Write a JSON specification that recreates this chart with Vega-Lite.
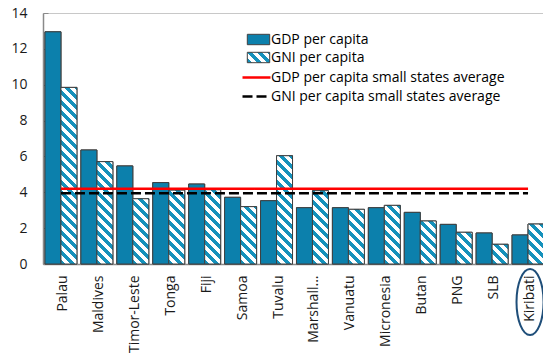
{
  "$schema": "https://vega.github.io/schema/vega-lite/v6.json",
  "width": 500,
  "height": 251,
  "autosize": {"type": "none"},
  "padding": {"left": 43, "top": 13, "right": 0, "bottom": 92},
  "background": "white",
  "config": {
    "font": "Open Sans",
    "view": {"stroke": "#c8c8c8", "strokeWidth": 1},
    "axis": {"labelFont": "Open Sans", "labelFontSize": 14, "labelColor": "#1a1a1a", "grid": false, "domainColor": "#8a8a8a", "domainWidth": 1.5, "tickColor": "#8a8a8a", "title": null, "labelOverlap": false},
    "legend": {"labelFont": "Open Sans", "labelFontSize": 14, "labelColor": "#000000", "labelLimit": 400}
  },
  "params": [
    {"name": "hs", "expr": "[{offset:0,color:'#1591bb'},{offset:0.02273,color:'#1591bb'},{offset:0.02273,color:'#fff'},{offset:0.04545,color:'#fff'},{offset:0.04545,color:'#1591bb'},{offset:0.06818,color:'#1591bb'},{offset:0.06818,color:'#fff'},{offset:0.09091,color:'#fff'},{offset:0.09091,color:'#1591bb'},{offset:0.11364,color:'#1591bb'},{offset:0.11364,color:'#fff'},{offset:0.13636,color:'#fff'},{offset:0.13636,color:'#1591bb'},{offset:0.15909,color:'#1591bb'},{offset:0.15909,color:'#fff'},{offset:0.18182,color:'#fff'},{offset:0.18182,color:'#1591bb'},{offset:0.20455,color:'#1591bb'},{offset:0.20455,color:'#fff'},{offset:0.22727,color:'#fff'},{offset:0.22727,color:'#1591bb'},{offset:0.25,color:'#1591bb'},{offset:0.25,color:'#fff'},{offset:0.27273,color:'#fff'},{offset:0.27273,color:'#1591bb'},{offset:0.29545,color:'#1591bb'},{offset:0.29545,color:'#fff'},{offset:0.31818,color:'#fff'},{offset:0.31818,color:'#1591bb'},{offset:0.34091,color:'#1591bb'},{offset:0.34091,color:'#fff'},{offset:0.36364,color:'#fff'},{offset:0.36364,color:'#1591bb'},{offset:0.38636,color:'#1591bb'},{offset:0.38636,color:'#fff'},{offset:0.40909,color:'#fff'},{offset:0.40909,color:'#1591bb'},{offset:0.43182,color:'#1591bb'},{offset:0.43182,color:'#fff'},{offset:0.45455,color:'#fff'},{offset:0.45455,color:'#1591bb'},{offset:0.47727,color:'#1591bb'},{offset:0.47727,color:'#fff'},{offset:0.5,color:'#fff'},{offset:0.5,color:'#1591bb'},{offset:0.52273,color:'#1591bb'},{offset:0.52273,color:'#fff'},{offset:0.54545,color:'#fff'},{offset:0.54545,color:'#1591bb'},{offset:0.56818,color:'#1591bb'},{offset:0.56818,color:'#fff'},{offset:0.59091,color:'#fff'},{offset:0.59091,color:'#1591bb'},{offset:0.61364,color:'#1591bb'},{offset:0.61364,color:'#fff'},{offset:0.63636,color:'#fff'},{offset:0.63636,color:'#1591bb'},{offset:0.65909,color:'#1591bb'},{offset:0.65909,color:'#fff'},{offset:0.68182,color:'#fff'},{offset:0.68182,color:'#1591bb'},{offset:0.70455,color:'#1591bb'},{offset:0.70455,color:'#fff'},{offset:0.72727,color:'#fff'},{offset:0.72727,color:'#1591bb'},{offset:0.75,color:'#1591bb'},{offset:0.75,color:'#fff'},{offset:0.77273,color:'#fff'},{offset:0.77273,color:'#1591bb'},{offset:0.79545,color:'#1591bb'},{offset:0.79545,color:'#fff'},{offset:0.81818,color:'#fff'},{offset:0.81818,color:'#1591bb'},{offset:0.84091,color:'#1591bb'},{offset:0.84091,color:'#fff'},{offset:0.86364,color:'#fff'},{offset:0.86364,color:'#1591bb'},{offset:0.88636,color:'#1591bb'},{offset:0.88636,color:'#fff'},{offset:0.90909,color:'#fff'},{offset:0.90909,color:'#1591bb'},{offset:0.93182,color:'#1591bb'},{offset:0.93182,color:'#fff'},{offset:0.95455,color:'#fff'},{offset:0.95455,color:'#1591bb'},{offset:0.97727,color:'#1591bb'},{offset:0.97727,color:'#fff'},{offset:1,color:'#fff'}]"}
  ],
  "datasets": {
    "bars": [
      {"country": "Palau", "series": "GDP per capita", "value": 12.95},
      {"country": "Palau", "series": "GNI per capita", "value": 9.85},
      {"country": "Maldives", "series": "GDP per capita", "value": 6.36},
      {"country": "Maldives", "series": "GNI per capita", "value": 5.71},
      {"country": "Timor-Leste", "series": "GDP per capita", "value": 5.47},
      {"country": "Timor-Leste", "series": "GNI per capita", "value": 3.64},
      {"country": "Tonga", "series": "GDP per capita", "value": 4.54},
      {"country": "Tonga", "series": "GNI per capita", "value": 4.12},
      {"country": "Fiji", "series": "GDP per capita", "value": 4.46},
      {"country": "Fiji", "series": "GNI per capita", "value": 4.14},
      {"country": "Samoa", "series": "GDP per capita", "value": 3.72},
      {"country": "Samoa", "series": "GNI per capita", "value": 3.2},
      {"country": "Tuvalu", "series": "GDP per capita", "value": 3.53},
      {"country": "Tuvalu", "series": "GNI per capita", "value": 6.04},
      {"country": "Marshall...", "series": "GDP per capita", "value": 3.14},
      {"country": "Marshall...", "series": "GNI per capita", "value": 4.09},
      {"country": "Vanuatu", "series": "GDP per capita", "value": 3.14},
      {"country": "Vanuatu", "series": "GNI per capita", "value": 3.05},
      {"country": "Micronesia", "series": "GDP per capita", "value": 3.14},
      {"country": "Micronesia", "series": "GNI per capita", "value": 3.27},
      {"country": "Butan", "series": "GDP per capita", "value": 2.88},
      {"country": "Butan", "series": "GNI per capita", "value": 2.4},
      {"country": "PNG", "series": "GDP per capita", "value": 2.21},
      {"country": "PNG", "series": "GNI per capita", "value": 1.77},
      {"country": "SLB", "series": "GDP per capita", "value": 1.73},
      {"country": "SLB", "series": "GNI per capita", "value": 1.1},
      {"country": "Kiribati", "series": "GDP per capita", "value": 1.62},
      {"country": "Kiribati", "series": "GNI per capita", "value": 2.23}
    ],
    "avg": [
      {"country": "Palau", "series": "GDP per capita small states average", "value": 4.2},
      {"country": "Kiribati", "series": "GDP per capita small states average", "value": 4.2},
      {"country": "Palau", "series": "GNI per capita small states average", "value": 3.94},
      {"country": "Kiribati", "series": "GNI per capita small states average", "value": 3.94}
    ]
  },
  "layer": [
    {
      "data": {"name": "bars"},
      "mark": {"type": "bar", "stroke": "#404040", "strokeWidth": 1},
      "encoding": {
        "x": {
          "field": "country", "type": "nominal",
          "scale": {"domain": ["Palau", "Maldives", "Timor-Leste", "Tonga", "Fiji", "Samoa", "Tuvalu", "Marshall...", "Vanuatu", "Micronesia", "Butan", "PNG", "SLB", "Kiribati"], "range": [0, 503], "paddingInner": 0.11, "paddingOuter": 0.055},
          "axis": {"labelAngle": -90, "ticks": false, "tickSize": 0, "labelPadding": 11, "labelOffset": 2}
        },
        "xOffset": {"field": "series", "type": "nominal", "scale": {"domain": ["GDP per capita", "GNI per capita"], "paddingInner": 0, "paddingOuter": 0}},
        "y": {
          "field": "value", "type": "quantitative", "stack": null,
          "scale": {"domain": [0, 14], "nice": false},
          "axis": {"values": [0, 2, 4, 6, 8, 10, 12, 14], "tickCount": 20, "format": "d", "tickSize": -5, "labelPadding": 21, "labelOverlap": false}
        },
        "fill": {
          "field": "series", "type": "nominal",
          "scale": {"domain": ["GDP per capita", "GNI per capita"], "range": ["#0c80ac", {"expr": "{gradient: 'linear', x1: 0, y1: 1, x2: 8.08, y2: -2.75, stops: hs}"}]},
          "legend": {
            "title": null, "orient": "none", "legendX": 207, "legendY": 18, "padding": 0,
            "symbolType": "M-1.4,-0.65H1.4V0.65H-1.4Z", "symbolSize": 256,
            "symbolStrokeColor": "#404040", "symbolStrokeWidth": 1, "symbolOpacity": 1,
            "labelOffset": 4, "rowPadding": 2
          }
        }
      }
    },
    {
      "data": {"name": "bars"},
      "mark": {
        "type": "bar",
        "stroke": "#404040",
        "strokeWidth": 1,
        "fill": {"expr": "datum.series == 'GDP per capita' ? '#0c80ac' : {gradient: 'linear', x1: 0, y1: 1, x2: 220*bandwidth('xOffset')/(pow(bandwidth('xOffset'),2)+pow(scale('y',0)-scale('y',datum.value),2)), y2: 1-220*(scale('y',0)-scale('y',datum.value))/(pow(bandwidth('xOffset'),2)+pow(scale('y',0)-scale('y',datum.value),2)), stops: hs}"}
      },
      "encoding": {
        "x": {"field": "country", "type": "nominal"},
        "xOffset": {"field": "series", "type": "nominal"},
        "y": {"field": "value", "type": "quantitative", "stack": null}
      }
    },
    {
      "data": {"name": "avg"},
      "mark": {"type": "line", "strokeWidth": 2.5},
      "encoding": {
        "x": {"field": "country", "type": "nominal"},
        "y": {"field": "value", "type": "quantitative"},
        "stroke": {
          "field": "series", "type": "nominal",
          "scale": {"domain": ["GDP per capita small states average", "GNI per capita small states average"], "range": ["#ff0000", "#000000"]},
          "legend": {
            "title": null, "orient": "none", "legendX": 204, "legendY": 55, "padding": 0,
            "symbolType": "M-1.75,0H1.75", "symbolSize": 256, "symbolStrokeWidth": 2.5,
            "labelOffset": 5, "rowPadding": 2
          }
        },
        "strokeDash": {
          "field": "series", "type": "nominal",
          "scale": {"domain": ["GDP per capita small states average", "GNI per capita small states average"], "range": [[1, 0], [10, 4]]},
          "legend": {
            "title": null, "orient": "none", "legendX": 204, "legendY": 55, "padding": 0,
            "symbolType": "M-1.75,0H1.75", "symbolSize": 256, "symbolStrokeWidth": 2.5,
            "labelOffset": 5, "rowPadding": 2
          }
        }
      }
    },
    {
      "data": {"values": [{}]},
      "mark": {"type": "point", "shape": "M0,-1A0.41,1,0,1,1,0,1A0.41,1,0,1,1,0,-1Z", "size": 4356, "filled": false, "stroke": "#1f4e79", "strokeWidth": 2, "opacity": 1, "xOffset": 2},
      "encoding": {
        "x": {"datum": "Kiribati", "type": "nominal"},
        "y": {"datum": -2.12, "type": "quantitative"}
      }
    }
  ]
}
